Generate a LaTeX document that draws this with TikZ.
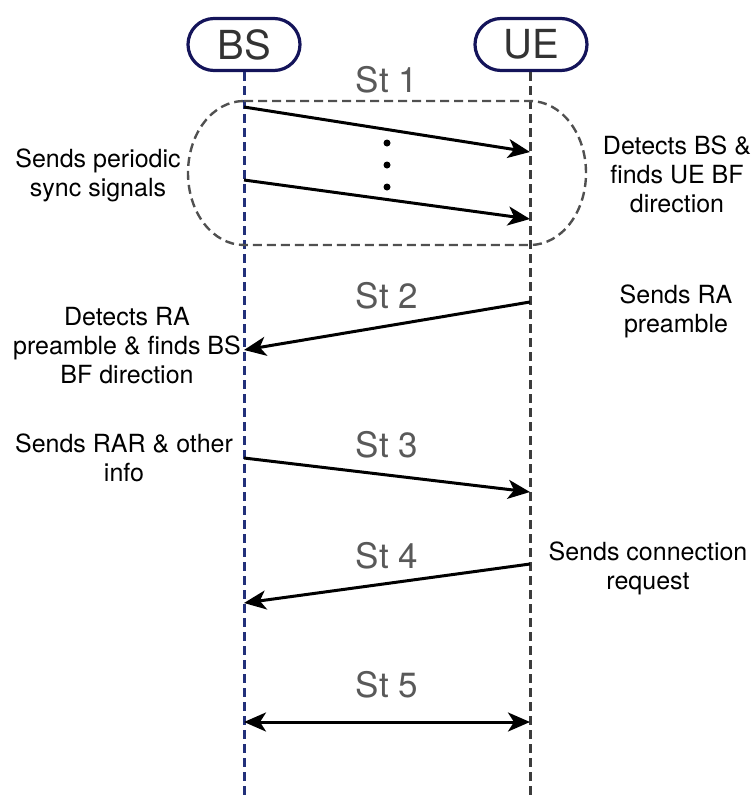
\documentclass[tikz,border=0pt]{standalone}
\usepackage{fontspec}
\setmainfont{TeX Gyre Heros}
\usetikzlibrary{arrows.meta,shapes.misc}
\definecolor{navy}{HTML}{14145A}
\definecolor{navyline}{HTML}{22307A}
\definecolor{stgray}{HTML}{595959}
\definecolor{boxgray}{HTML}{505050}
\definecolor{uegray}{HTML}{3C3C3C}
\tikzset{
  actor/.style={rounded rectangle, draw=navy, line width=3.2pt, minimum width=112pt, minimum height=52pt, inner sep=0pt, text=black!80, font=\fontsize{40}{42}\selectfont},
  lifebs/.style={draw=navyline, line width=3pt, dash pattern=on 9pt off 5pt},
  lifeue/.style={draw=uegray, line width=3pt, dash pattern=on 9pt off 5pt},
  msg/.style={draw=black, line width=3pt, -{Stealth[length=22pt,width=19pt,inset=6pt]}},
  msgboth/.style={draw=black, line width=3pt, {Stealth[length=22pt,width=19pt,inset=6pt]}-{Stealth[length=22pt,width=19pt,inset=6pt]}},
  steplabel/.style={text=stgray, font=\fontsize{35}{38}\selectfont, anchor=base, inner sep=0pt},
  note/.style={align=center, font=\fontsize{25}{29}\selectfont, inner sep=0pt},
  grpbox/.style={draw=boxgray, line width=2.4pt, dash pattern=on 9pt off 5pt},
  dotmark/.style={fill=black, draw=none}
}
\begin{document}
\begin{tikzpicture}[x=1pt,y=-1pt]
\useasboundingbox (0,0) rectangle (753,796);
% actors
\node[actor] (bs) at (244,44.5) {BS};
\node[actor] (ue) at (531,44.5) {UE};
% lifeline ends
\coordinate (bsend) at (244,796);
\coordinate (ueend) at (530,796);
\draw[lifebs] (bs.south) -- (bsend);
\draw[lifeue] (ue.south -| ueend) -- (ueend);
% group box of step 1
\draw[grpbox] (244,101) -- (530,101) .. controls (561,101) and (586,133) .. (586,173)
  .. controls (586,213) and (561,245) .. (530,245) -- (244,245)
  .. controls (213,245) and (188,213) .. (188,173)
  .. controls (188,133) and (213,101) .. (244,101) -- cycle;
% message end points
\coordinate (s1a) at (244,107); \coordinate (s1b) at (530,152);
\coordinate (s1c) at (244,180); \coordinate (s1d) at (530,219);
\coordinate (s2a) at (530,302); \coordinate (s2b) at (244,350);
\coordinate (s3a) at (244,458); \coordinate (s3b) at (530,492);
\coordinate (s4a) at (530,564); \coordinate (s4b) at (244,603);
\coordinate (s5a) at (244,722); \coordinate (s5b) at (530,722);
% messages
\draw[msg] (s1a) -- (s1b);
\draw[msg] (s1c) -- (s1d);
\draw[msg] (s2a) -- (s2b);
\draw[msg] (s3a) -- (s3b);
\draw[msg] (s4a) -- (s4b);
\draw[msgboth] (s5a) -- (s5b);
% dots
\fill[dotmark] (387,143) circle (3.5pt);
\fill[dotmark] (387,165) circle (3.5pt);
\fill[dotmark] (387,187) circle (3.5pt);
% step labels
\node[steplabel] (st1) at (387,92) {St 1};
\node[steplabel] (st2) at (387,308) {St 2};
\node[steplabel] (st3) at (387,457) {St 3};
\node[steplabel] (st4) at (387,568) {St 4};
\node[steplabel] (st5) at (387,697) {St 5};
% notes
\node[note] (n1) at (98,175) {Sends periodic\\sync signals};
\node[note] (n2) at (677,174) {Detects BS \&\\finds UE BF\\direction};
\node[note] (n3) at (676,311) {Sends RA\\preamble};
\node[note] (n4) at (127,346) {Detects RA\\preamble \& finds BS\\BF direction};
\node[note] (n5) at (124,458) {Sends RAR \& other\\info};
\node[note] (n6) at (648,568) {Sends connection\\request};
\end{tikzpicture}
\end{document}
